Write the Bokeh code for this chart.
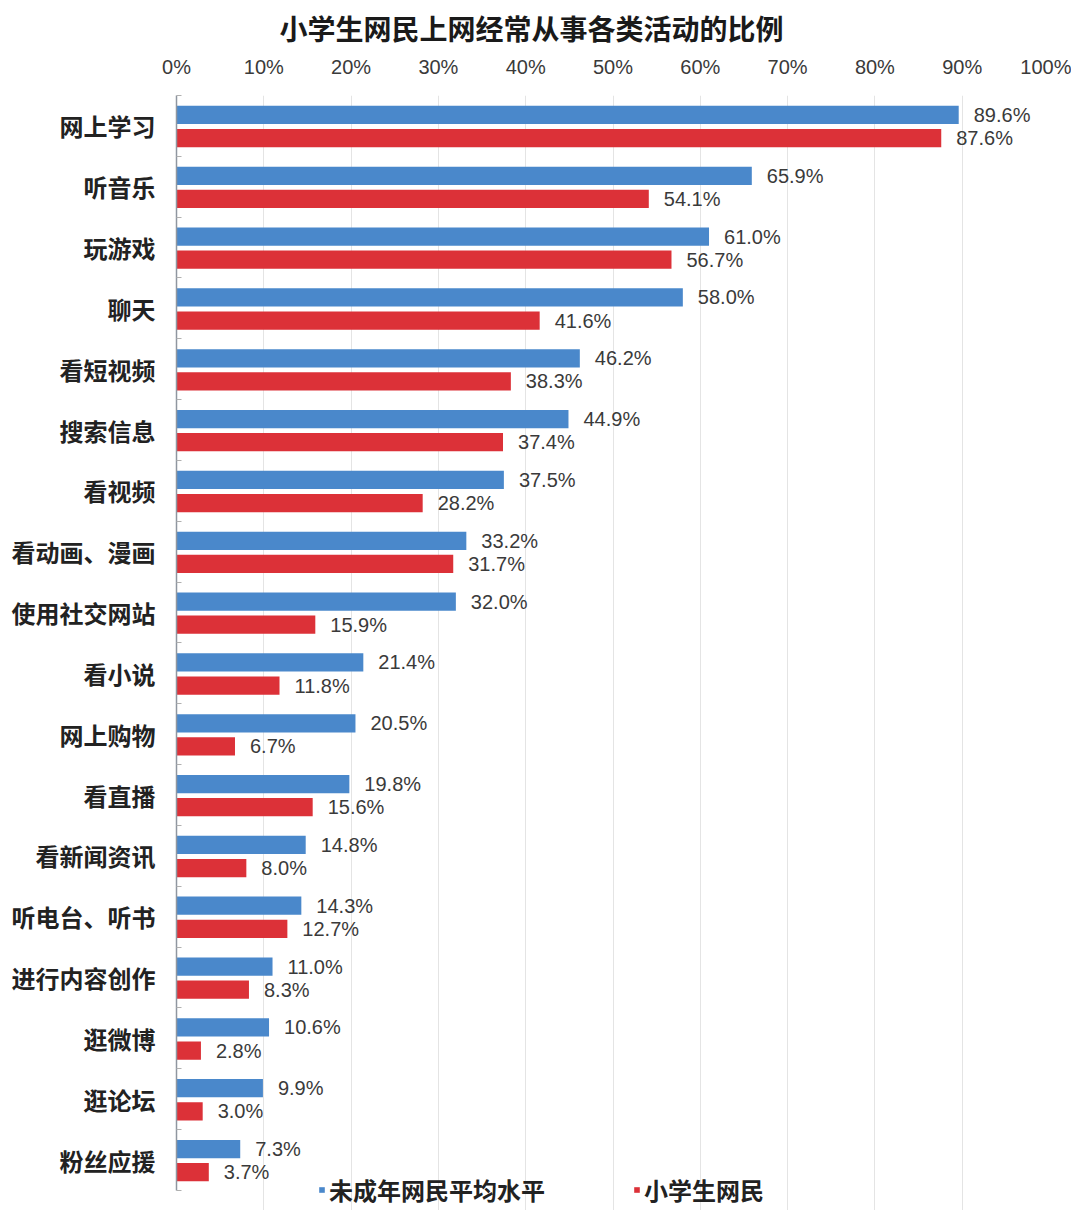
from bokeh.plotting import figure
from bokeh.models import ColumnDataSource, Range1d, FixedTicker, Legend, LegendItem, Title
from bokeh.core.properties import value
from bokeh.embed import file_html
from bokeh.resources import INLINE

categories = ["网上学习", "听音乐", "玩游戏", "聊天", "看短视频", "搜索信息", "看视频",
              "看动画、漫画", "使用社交网站", "看小说", "网上购物", "看直播", "看新闻资讯",
              "听电台、听书", "进行内容创作", "逛微博", "逛论坛", "粉丝应援"]
minors_avg = [89.6, 65.9, 61.0, 58.0, 46.2, 44.9, 37.5, 33.2, 32.0, 21.4, 20.5, 19.8,
              14.8, 14.3, 11.0, 10.6, 9.9, 7.3]
pupils = [87.6, 54.1, 56.7, 41.6, 38.3, 37.4, 28.2, 31.7, 15.9, 11.8, 6.7, 15.6,
          8.0, 12.7, 8.3, 2.8, 3.0, 3.7]
series_names = ["未成年网民平均水平", "小学生网民"]
tick_values = [0, 10, 20, 30, 40, 50, 60, 70, 80, 90, 100]
tick_labels = ["0%", "10%", "20%", "30%", "40%", "50%", "60%", "70%", "80%", "90%", "100%"]
title_text = "小学生网民上网经常从事各类活动的比例"

BLUE = "#4a88cb"
RED = "#dc3138"
CJK = "Noto Sans CJK SC"
LAT = "Liberation Sans"

n = len(categories)
pos = [n - 1 - i for i in range(n)]          # category slots, first at top
BLUE_OFF, RED_OFF = 0.18, -0.20

src = ColumnDataSource(dict(
    cat=categories,
    ya=[y + BLUE_OFF for y in pos],
    yb=[y + RED_OFF for y in pos],
    a=minors_avg,
    b=pupils,
    a_lbl=[f"{v:.1f}%" for v in minors_avg],
    b_lbl=[f"{v:.1f}%" for v in pupils],
))

p = figure(
    y_range=Range1d(-0.5 - 0.33, n - 0.5),
    x_range=Range1d(0, 100),
    x_axis_location="above",
    frame_width=873, frame_height=1115,
    min_border_left=176, min_border_right=22, min_border_top=80, min_border_bottom=0,
    output_backend="svg", toolbar_location=None,
    background_fill_color="white", border_fill_color="white",
)
p.outline_line_color = None

t = Title(text=title_text, align="left", offset=103, text_font=CJK, text_font_size="28px",
          text_font_style="bold", text_color="#1a1a1a", standoff=10, text_line_height=0.8)
p.add_layout(t, "above")

r1 = p.hbar(y="ya", right="a", left=0, height=0.3, source=src, color=BLUE, line_color=None)
r2 = p.hbar(y="yb", right="b", left=0, height=0.3, source=src, color=RED, line_color=None)

p.text(x="a", y="ya", text="a_lbl", source=src, x_offset=15, text_baseline="middle",
       text_align="left", text_font=value(LAT), text_font_size="20px", text_color="#3a3a3a")
p.text(x="b", y="yb", text="b_lbl", source=src, x_offset=15, text_baseline="middle",
       text_align="left", text_font=value(LAT), text_font_size="20px", text_color="#3a3a3a")

# x axis (top)
xa = p.xaxis[0]
xa.ticker = FixedTicker(ticks=tick_values)
xa.major_label_overrides = {v: l for v, l in zip(tick_values, tick_labels)}
xa.axis_line_color = None
xa.major_tick_line_color = None
xa.minor_tick_line_color = None
xa.major_label_standoff = 12
xa.major_label_text_font = LAT
xa.major_label_text_font_size = "20px"
xa.major_label_text_color = "#3a3a3a"

# y axis (categories)
ya = p.yaxis[0]
ya.ticker = FixedTicker(ticks=pos, minor_ticks=[k - 0.5 for k in range(n + 1)])
ya.major_label_overrides = {y: c for y, c in zip(pos, categories)}
ya.bounds = (-0.5, n - 0.5)
ya.axis_line_color = "#8f96a0"
ya.axis_line_width = 1.5
ya.major_tick_line_color = None
ya.minor_tick_line_color = "#b0b0b0"
ya.minor_tick_in = 5
ya.minor_tick_out = 0
ya.major_label_standoff = 15
ya.major_label_text_font = CJK
ya.major_label_text_font_size = "24px"
ya.major_label_text_font_style = "bold"
ya.major_label_text_color = "#222222"

p.xgrid.ticker = FixedTicker(ticks=tick_values)
p.xgrid.grid_line_color = "#e4e4e4"
p.xgrid.bounds = (-0.5, n - 0.5)
p.ygrid.grid_line_color = None

legend = Legend(items=[LegendItem(label=series_names[0], renderers=[r1]),
                       LegendItem(label=series_names[1], renderers=[r2])],
                orientation="horizontal", location=(142, 3),
                glyph_width=7, glyph_height=7, label_standoff=4, spacing=88,
                padding=0, margin=0, label_height=24,
                label_text_font=CJK, label_text_font_size="24px",
                label_text_font_style="bold", label_text_color="#222222",
                background_fill_alpha=0, border_line_color=None)
p.add_layout(legend, "center")

open("out.html", "w").write(file_html(p, INLINE))
